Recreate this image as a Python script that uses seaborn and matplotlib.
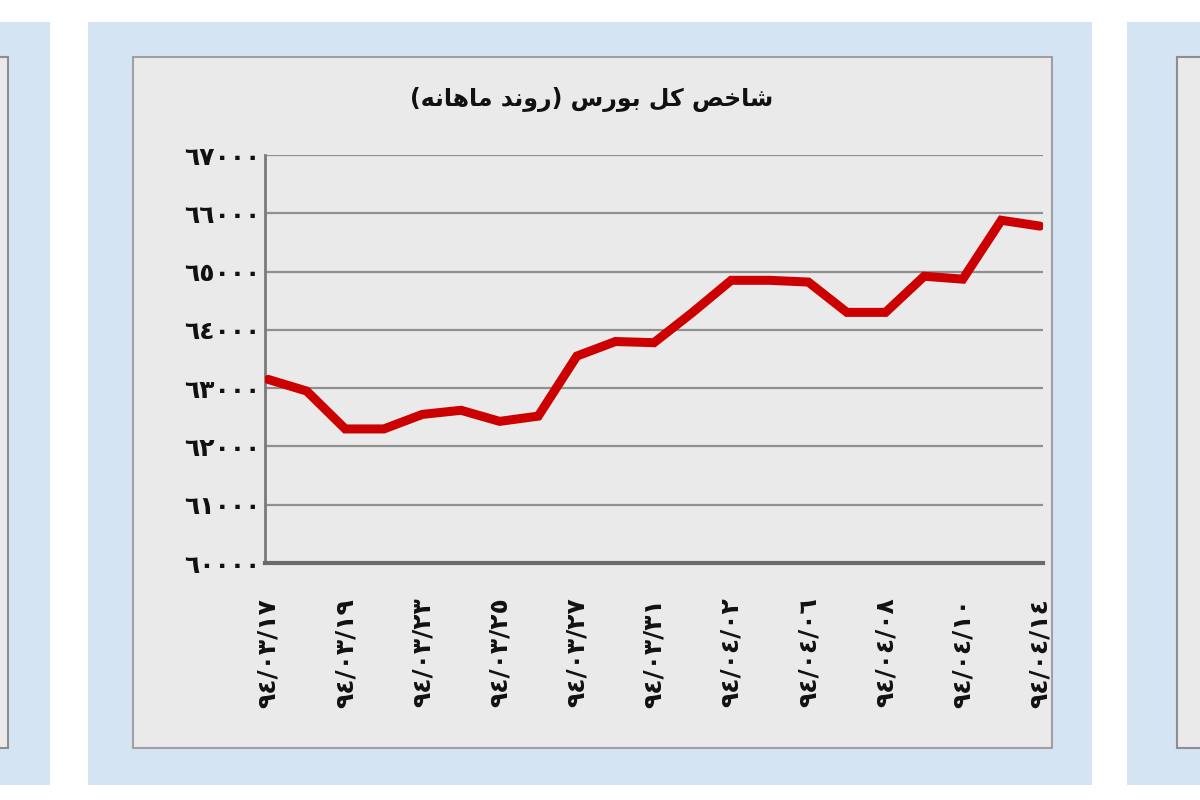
import numpy as np
import pandas as pd
import seaborn as sns
import matplotlib.pyplot as plt
from matplotlib.patches import Rectangle

# trading days (1394 Khordad/Tir), shown every other day on the axis
dates = ["۹۴/۰۳/۱۷", "۹۴/۰۳/۱۸", "۹۴/۰۳/۱۹", "۹۴/۰۳/۲۰", "۹۴/۰۳/۲۳",
         "۹۴/۰۳/۲۴", "۹۴/۰۳/۲۵", "۹۴/۰۳/۲۶", "۹۴/۰۳/۲۷", "۹۴/۰۳/۳۰",
         "۹۴/۰۳/۳۱", "۹۴/۰۴/۰۱", "۹۴/۰۴/۰۲", "۹۴/۰۴/۰۳", "۹۴/۰۴/۰۶",
         "۹۴/۰۴/۰۷", "۹۴/۰۴/۰۸", "۹۴/۰۴/۰۹", "۹۴/۰۴/۱۰", "۹۴/۰۴/۱۳",
         "۹۴/۰۴/۱۴"]
index_values = [63150, 62950, 62300, 62300, 62550, 62620, 62430, 62520,
                63550, 63800, 63780, 64300, 64850, 64850, 64820, 64300,
                64300, 64920, 64870, 65880, 65780]
y_ticks = [60000, 61000, 62000, 63000, 64000, 65000, 66000, 67000]

# title "شاخص کل بورس (روند ماهانه)" in shaped visual order
title = ("(\uFEEA\uFEE7\uFE8E\uFEEB\uFE8E\uFEE3 \uFEAA\uFEE7\uFEED\uFEAD) "
         "\uFEB1\uFEAD\uFEEE\uFE91 \uFEDE\uFB90 \uFEBA\uFEA7\uFE8E\uFEB7")

AR_DIGITS = str.maketrans("0123456789۰۱۲۳۴۵۶۷۸۹", "٠١٢٣٤٥٦٧٨٩٠١٢٣٤٥٦٧٨٩")

df = pd.DataFrame({"date": dates, "value": index_values})
df["pos"] = range(len(df))

sns.set_style("white")
plt.rcParams["font.family"] = ["DejaVu Sans"]

BLUE = "#d5e4f3"
GRAY = "#eaeaea"

fig = plt.figure(figsize=(12, 8), dpi=100)
fig.patch.set_facecolor("white")


def px_rect(x0, y0, x1, y1, **kw):
    # pixel box (top-left origin) -> figure fraction rectangle
    return Rectangle((x0 / 1200, 1 - y1 / 800), (x1 - x0) / 1200,
                     (y1 - y0) / 800, transform=fig.transFigure,
                     zorder=-5, **kw)


# neighbouring panels and main frame
fig.add_artist(px_rect(-5, 22, 50, 785, facecolor=BLUE, edgecolor="none"))
fig.add_artist(px_rect(-5, 57, 8, 748, facecolor=GRAY, edgecolor="#8e8e8e", lw=1.5))
fig.add_artist(px_rect(1127, 22, 1210, 785, facecolor=BLUE, edgecolor="none"))
fig.add_artist(px_rect(1177, 57, 1210, 748, facecolor=GRAY, edgecolor="#8e8e8e", lw=1.5))
fig.add_artist(px_rect(88, 22, 1092, 785, facecolor=BLUE, edgecolor="none"))
fig.add_artist(px_rect(133, 57, 1052, 748, facecolor=GRAY, edgecolor="#a0a0a0", lw=1.5))

ax = fig.add_axes([265 / 1200, 1 - 563 / 800, 778 / 1200, 408 / 800])
ax.set_facecolor("none")

for yv in y_ticks[1:]:
    ax.axhline(yv, color="#8f8f8f", lw=1.6, zorder=1)

sns.lineplot(data=df, x="pos", y="value", color="#cc0000", linewidth=6.5,
             ax=ax, zorder=3)
ax.lines[-1].set_solid_joinstyle("miter")

ax.set_xlim(-0.08, len(df) - 1 + 0.08)
ax.set_ylim(y_ticks[0], y_ticks[-1])
ax.set_yticks(y_ticks)
ax.set_yticklabels([str(v).translate(AR_DIGITS) for v in y_ticks],
                   fontsize=18, fontweight="bold")
tick_pos = df["pos"][::2]
ax.set_xticks(tick_pos)
ax.set_xticklabels([d.translate(AR_DIGITS) for d in df["date"][::2]],
                   rotation=90, fontsize=18, fontweight="bold")
ax.tick_params(axis="y", length=0, pad=3, colors="#111111")
ax.tick_params(axis="x", length=0, pad=25, colors="#111111")
ax.set_xlabel("")
ax.set_ylabel("")

for side in ["top", "right"]:
    ax.spines[side].set_visible(False)
ax.spines["left"].set_color("#7a7a7a")
ax.spines["left"].set_linewidth(2)
ax.spines["bottom"].set_color("#6a6a6a")
ax.spines["bottom"].set_linewidth(3)

fig.text(592 / 1200, 1 - 100 / 800, title, ha="center", va="center",
         fontsize=17, fontweight="bold", color="#111111")

plt.savefig("out.png", dpi=100, facecolor=fig.get_facecolor())
